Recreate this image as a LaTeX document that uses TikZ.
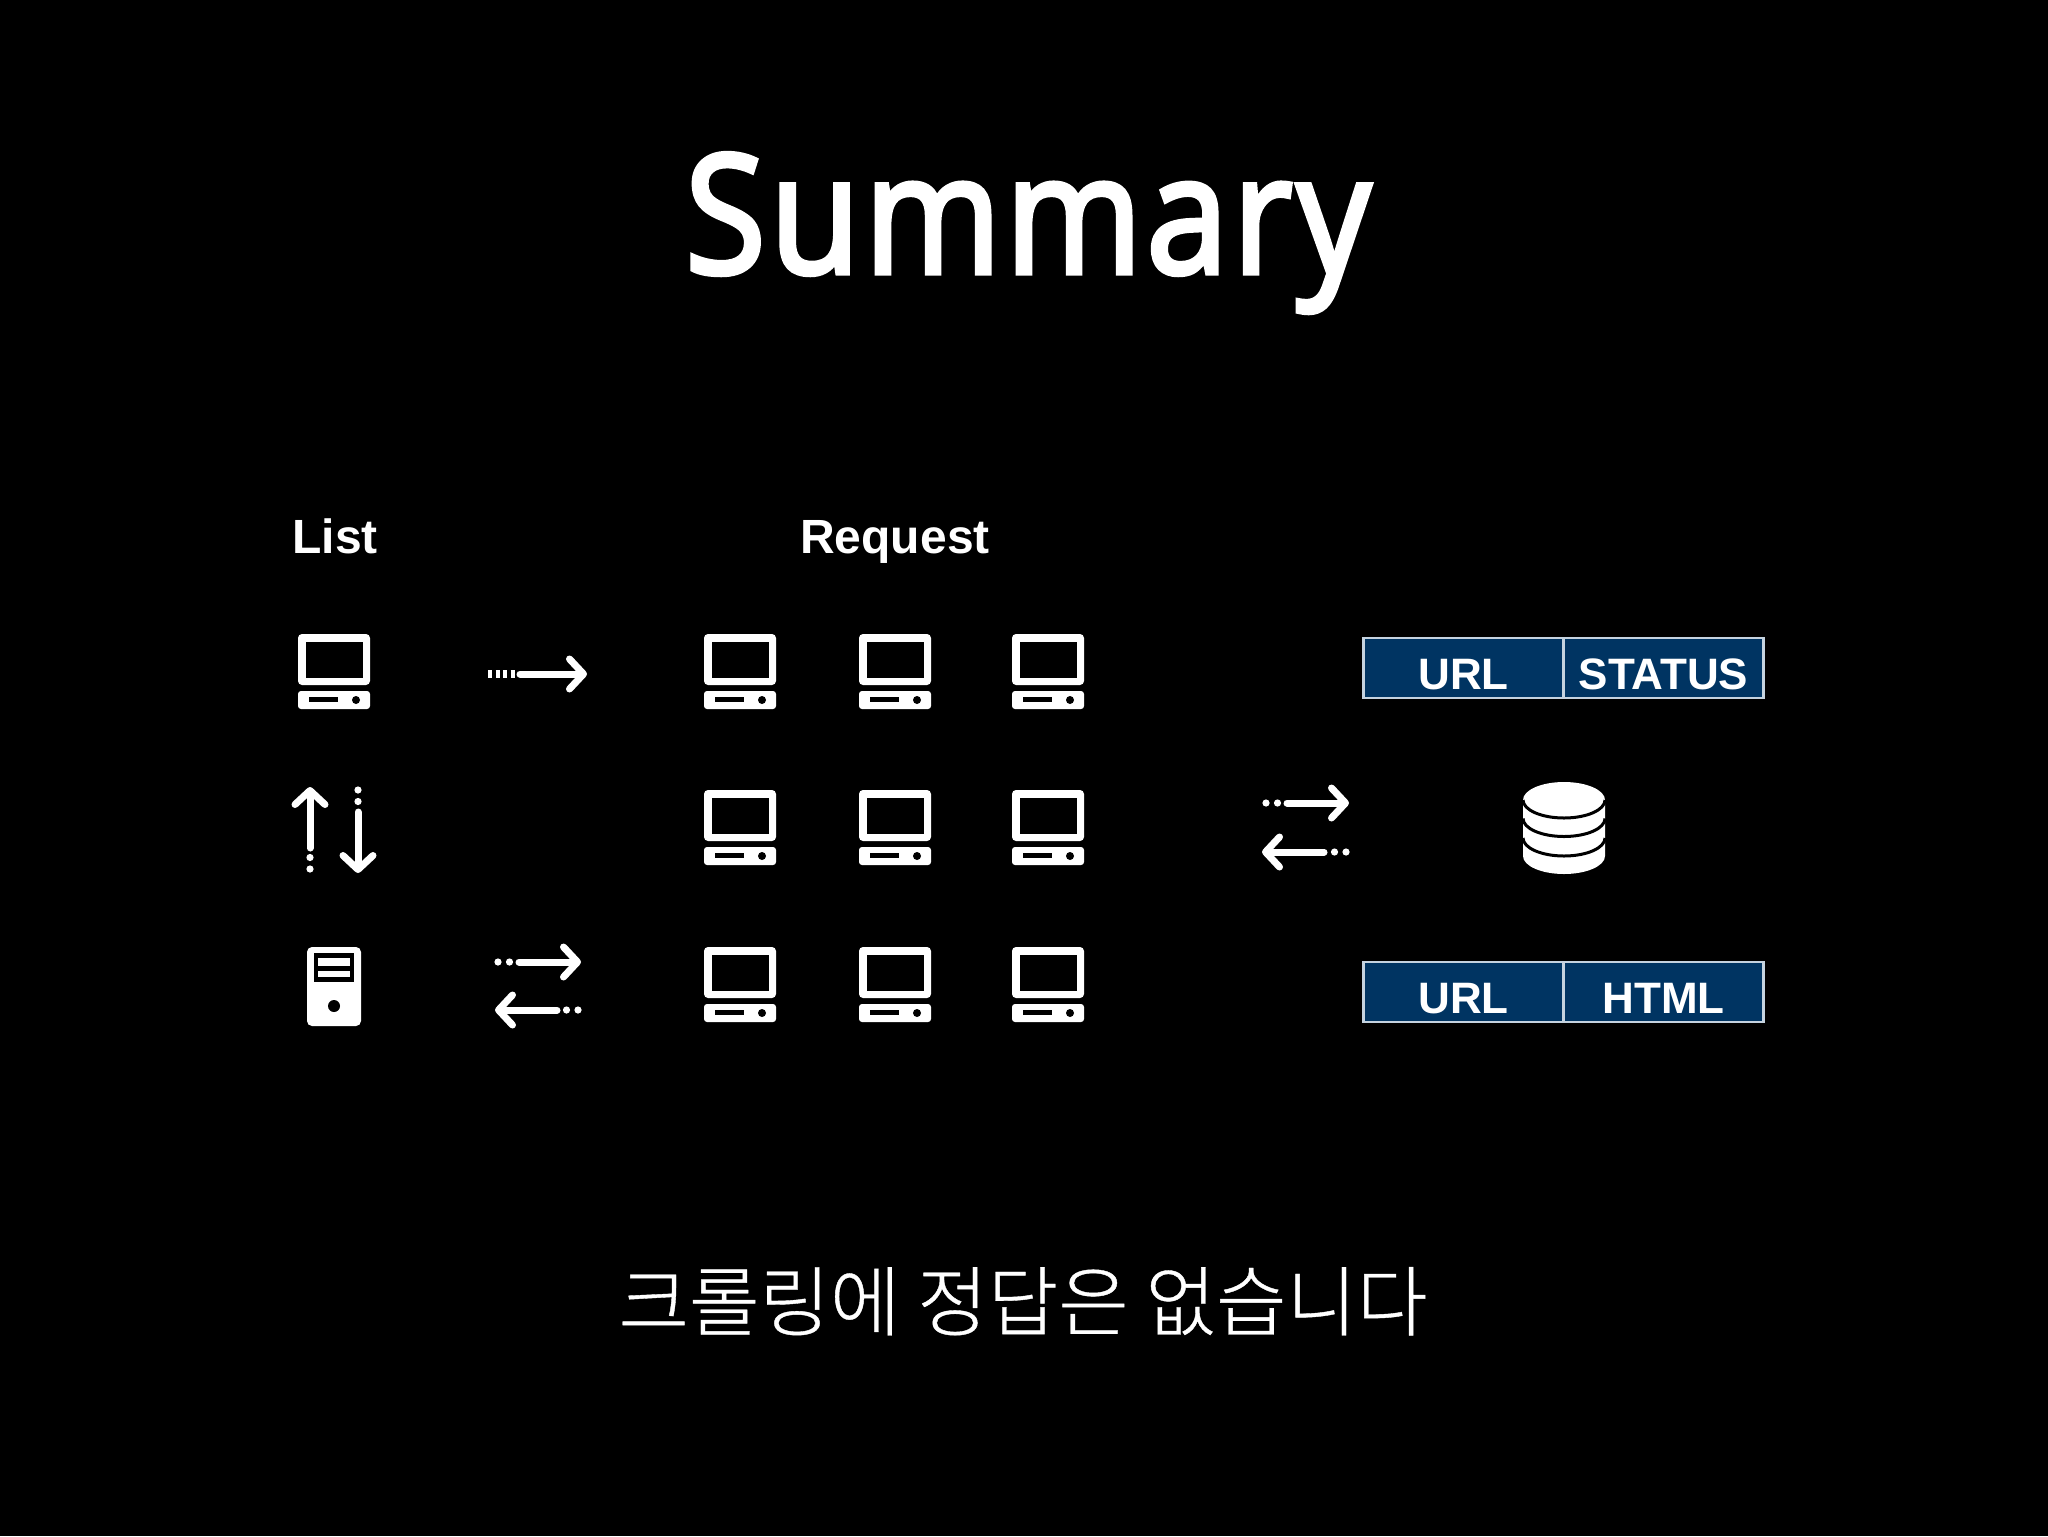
\documentclass[tikz,border=0pt]{standalone}
\usepackage{fontspec}
\setmainfont{Liberation Sans}
\newfontfamily\titlefont[FakeBold=3.2,LetterSpace=3]{Open Sans}
\newfontfamily\korfont[FakeBold=.5]{Noto Sans CJK KR Light}
\usetikzlibrary{arrows.meta,positioning}
\definecolor{navy}{HTML}{003462}
\definecolor{edge}{HTML}{C5D3E0}
\tikzset{
  label/.style={white, inner sep=0pt, anchor=base, font=\bfseries\fontsize{24pt}{24pt}\selectfont},
  cell/.style={draw=edge, fill=navy, line width=1.2pt, text=white, inner sep=0pt, outer sep=0pt,
    minimum width=100pt, text height=25.7pt, text depth=4.3pt, text width=100pt, align=center,
    font=\bfseries\fontsize{22pt}{22pt}\selectfont},
  flow/.style={white, line width=3.5pt, line cap=round,
    -{Straight Barb[round, length=7pt, width=15pt]}},
  dots/.style={white, line width=3.6pt, line cap=round, dash pattern=on 0pt off 5.75pt},
  ticks/.style={white, line width=4pt, dash pattern=on 2pt off 1.75pt},
  pics/computer/.style={code={
    \fill[white, rounded corners=2pt] (-36,0) rectangle (36,51);
    \fill[black] (-28,8) rectangle (29,44);
    \fill[white, rounded corners=1.5pt] (-36,57) rectangle (36,75);
    \fill[black] (-25,63) rectangle (4,68);
    \fill[black] (22,66) circle (4);
  }},
}
\begin{document}
\begin{tikzpicture}[x=.5pt, y=-.5pt]
  \fill[black] (0,0) rectangle (2048,1536);
  \useasboundingbox (0,0) rectangle (2048,1536);

  \node[white, inner sep=0pt, anchor=base, xscale=.89, transform shape, font=\titlefont\fontsize{82.5pt}{90pt}\selectfont] (title) at (1028,273) {Summary};
  \node[label] (list) at (335,553) {List};
  \node[label] (request) at (895,553) {Request};
  \node[white, inner sep=0pt, anchor=base, font=\korfont\fontsize{38.3pt}{40pt}\selectfont] (answer) at (1023,1330) {크롤링에 정답은 없습니다};

  % machines
  \pic (list) at (334,634) {computer};
  \foreach \px in {740,895,1048}
    \foreach \py in {634,790,947}
      \pic (req\px\py) at (\px,\py) {computer};

  % server
  \fill[white, rounded corners=2.5pt] (307,947) rectangle (361,1026);
  \fill[black] (314,953) rectangle (354,982);
  \fill[white] (318,958) rectangle (350,966);
  \fill[white] (318,971) rectangle (350,977);
  \fill[black] (334,1006) circle (6);

  % list to request
  \coordinate (go0) at (488,674);
  \coordinate (go1) at (516,674);
  \coordinate (go2) at (520,674);
  \coordinate (go3) at (587,674);
  \draw[ticks] (go0) -- (go1);
  \draw[flow] (go2) -- (go3);

  % list and server
  \coordinate (up0) at (310,869);
  \coordinate (up1) at (310,857);
  \coordinate (up2) at (310,848);
  \coordinate (up3) at (310,787);
  \draw[dots] (up0) -- (up1);
  \draw[flow] (up2) -- (up3);
  \coordinate (dn0) at (358,790);
  \coordinate (dn1) at (358,803);
  \coordinate (dn2) at (358,812);
  \coordinate (dn3) at (358,873);
  \draw[dots] (dn0) -- (dn1);
  \draw[flow] (dn2) -- (dn3);

  % server and request
  \coordinate (sa0) at (498,962);
  \coordinate (sa1) at (510,962);
  \coordinate (sa2) at (519,962);
  \coordinate (sa3) at (581,962);
  \draw[dots] (sa0) -- (sa1);
  \draw[flow] (sa2) -- (sa3);
  \coordinate (sb0) at (578,1010);
  \coordinate (sb1) at (566,1010);
  \coordinate (sb2) at (557,1010);
  \coordinate (sb3) at (495,1010);
  \draw[dots] (sb0) -- (sb1);
  \draw[flow] (sb2) -- (sb3);

  % request and database
  \coordinate (da0) at (1266,803);
  \coordinate (da1) at (1279,803);
  \coordinate (da2) at (1287,803);
  \coordinate (da3) at (1349,803);
  \draw[dots] (da0) -- (da1);
  \draw[flow] (da2) -- (da3);
  \coordinate (db0) at (1346,852);
  \coordinate (db1) at (1333,852);
  \coordinate (db2) at (1324,852);
  \coordinate (db3) at (1262,852);
  \draw[dots] (db0) -- (db1);
  \draw[flow] (db2) -- (db3);

  % database
  \fill[white] (1523,800) arc (180:0:41 and -18) -- (1605,856) arc (0:180:41 and 18) -- cycle;
  \foreach \py in {800,818.5,838}
    \draw[black, line width=1.5pt] (1523,\py) arc (180:0:41 and 18);

  % tables
  \node[cell] (url1) at (1463.5,668) {URL};
  \node[cell, right=0pt of url1] (status) {STATUS};
  \node[cell] (url2) at (1463.5,992) {URL};
  \node[cell, right=0pt of url2] (html) {HTML};
\end{tikzpicture}
\end{document}
